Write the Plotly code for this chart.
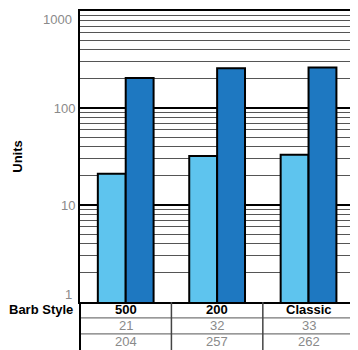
import plotly.graph_objects as go

# data
categories = ['500', '200', 'Classic']
series_a = [21, 32, 33]
series_b = [204, 257, 262]
row_label = 'Barb Style'
y_ticks = [1, 10, 100, 1000]

LIGHT = '#5ec4ee'
DARK = '#1e78c1'
FONT = 'Liberation Sans, Arial, sans-serif'
GRAY = '#8a8a8a'

fig = go.Figure()
fig.add_trace(go.Bar(x=categories, y=series_a, marker=dict(color=LIGHT, line=dict(color='black', width=2)),
                     showlegend=False))
fig.add_trace(go.Bar(x=categories, y=series_b, marker=dict(color=DARK, line=dict(color='black', width=2)),
                     showlegend=False))

# table under the plot: rows in paper coords
plot_h = 342 - 2 - 48
row_h = 16 / plot_h
rows = [
    (categories, True),
    ([str(v) for v in series_a], False),
    ([str(v) for v in series_b], False),
]
for r, (texts, bold) in enumerate(rows):
    yc = -row_h * (r + 0.5)
    for i, t in enumerate(texts):
        fig.add_annotation(
            x=i, y=yc, xref='x', yref='paper', text=f'<b>{t}</b>' if bold else t,
            showarrow=False, yanchor='middle',
            font=dict(size=13, color='black' if bold else GRAY, family=FONT))
    if r > 0:
        fig.add_shape(type='line', xref='paper', yref='paper', x0=0, x1=1,
                      y0=-row_h * r, y1=-row_h * r, line=dict(color='#777777', width=1.2))

# column separators
for k in range(len(categories)):
    fig.add_shape(type='line', xref='x', yref='paper', x0=k + 0.5, x1=k + 0.5,
                  y0=0, y1=-row_h * 3.2, line=dict(color='#444444', width=1.5))
fig.add_shape(type='line', xref='paper', yref='paper', x0=0, x1=0,
              y0=0, y1=-row_h * 3.2, line=dict(color='black', width=2))

fig.add_annotation(x=0, y=-row_h * 0.5, xref='paper', yref='paper', text=f'<b>{row_label}</b>',
                   showarrow=False, xanchor='right', xshift=-5, yanchor='middle',
                   font=dict(size=13, color='black', family=FONT))

# end tick labels sit inside the axis range
fig.add_annotation(x=0, y=0, xref='paper', yref='paper', text=str(y_ticks[0]), showarrow=False,
                   xanchor='right', yanchor='bottom', xshift=-6, yshift=-2,
                   font=dict(size=13, color=GRAY, family=FONT))
fig.add_annotation(x=0, y=1, xref='paper', yref='paper', text=str(y_ticks[-1]), showarrow=False,
                   xanchor='right', yanchor='top', xshift=-6, yshift=1,
                   font=dict(size=13, color=GRAY, family=FONT))

fig.update_layout(
    width=350, height=342,
    margin=dict(l=72, r=1, t=2, b=48),
    barmode='group', bargap=0.39, bargroupgap=0,
    plot_bgcolor='white', paper_bgcolor='white',
    font=dict(family=FONT),
)
fig.update_xaxes(showticklabels=False, showgrid=False, showline=True, linecolor='black',
                 linewidth=2, mirror=True, ticks='', zeroline=False)
fig.update_yaxes(
    type='log', range=[0, 3], tickvals=y_ticks[1:-1], ticktext=[str(v) for v in y_ticks[1:-1]],
    tickfont=dict(size=13, color=GRAY, family=FONT), ticks='',
    showgrid=True, gridcolor='black', gridwidth=2,
    minor=dict(dtick='D1', showgrid=True, gridcolor='#555555', gridwidth=1.3, ticks=''),
    showline=True, linecolor='black', linewidth=2, mirror=True, zeroline=False,
    title=dict(text='<b>Units</b>', font=dict(size=13, color='black', family=FONT), standoff=28),
)

fig.write_html('out.html')
